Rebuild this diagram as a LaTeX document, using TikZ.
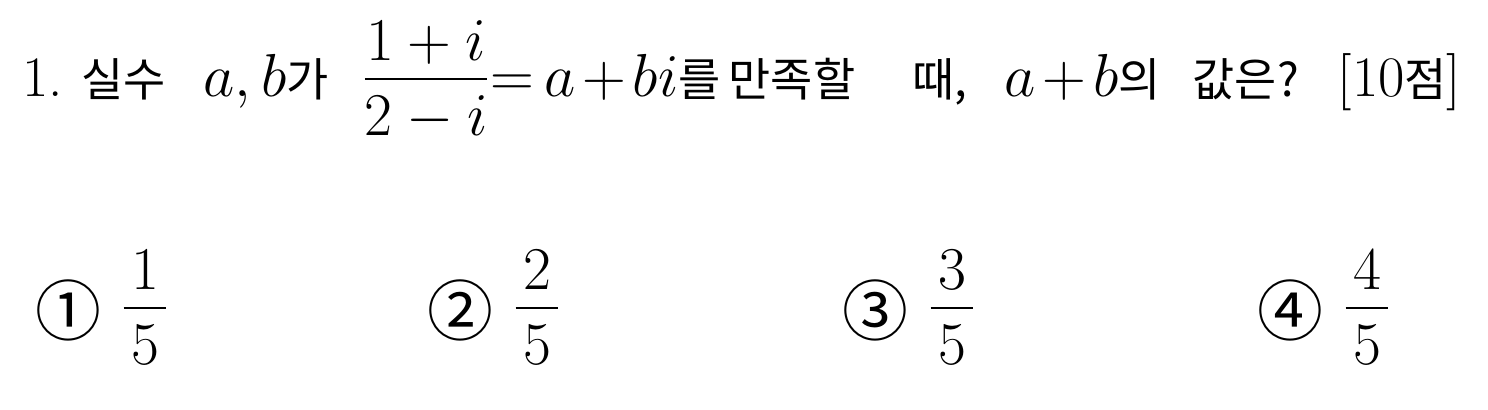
\documentclass[tikz,border=0pt]{standalone}
\usepackage{amsmath}
\usepackage{fontspec}
\newfontfamily\kor[Scale=0.8]{Noto Sans CJK KR}
\newfontfamily\circfont[Scale=1.15]{Noto Sans CJK KR}
\newcommand{\qfrac}[2]{\dfrac{\raisebox{-0.14em}{$#1$}}{#2}}
\newcommand{\choicefrac}[2]{\dfrac{\kern.13em\raisebox{-0.14em}{$#1$}\kern.13em}{#2}}
\newcommand{\tightop}[1]{\mskip2mu{#1}\mskip2mu}
\tikzset{
  qtext/.style={anchor=base west,inner sep=0pt,font=\fontsize{16.3}{20}\selectfont},
  choicenum/.style={anchor=center,inner sep=0pt,font=\fontsize{16.3}{20}\circfont},
  choicefr/.style={anchor=base,inner sep=0pt,font=\fontsize{16.3}{20}\selectfont}
}
\begin{document}
\begin{tikzpicture}[x=0.1mm,y=-0.1mm]
%\draw[step=100,gray,very thin] (0,0) grid (1488,409); %bckgr grid
\useasboundingbox (0,0) rectangle (1488,409);

% question line
\node[qtext] (num) at (22,96) {1.};
\node[qtext] (silsu) at (81,96) {\kor 실수};
\node[qtext] (ab) at (203,96) {$a,b$\kor 가};
\node[qtext] (frac) at (360,94) {$\qfrac{1+i}{2-i}$};
\node[qtext] (eq) at (490,96) {${=}\mskip3mu a\tightop{+}bi$\kor 를};
\node[qtext] (manjok) at (728,96) {\kor 만족할};
\node[qtext] (ttae) at (912,96) {\kor 때,};
\node[qtext] (apb) at (1004,96) {$a\tightop{+}b$\kor 의};
\node[qtext] (gap) at (1192,96) {\kor 값은?};
\node[qtext] (score) at (1337,96) {[10{\kor 점}]};

% choices
\node[choicenum] (c1) at (68,310) {①};
\node[choicenum] (c2) at (460,310) {②};
\node[choicenum] (c3) at (875,310) {③};
\node[choicenum] (c4) at (1290,310) {④};

\node[choicefr] (f1) at (145,323) {$\choicefrac{1}{5}$};
\node[choicefr] (f2) at (537,323) {$\choicefrac{2}{5}$};
\node[choicefr] (f3) at (952,323) {$\choicefrac{3}{5}$};
\node[choicefr] (f4) at (1367,323) {$\choicefrac{4}{5}$};

\end{tikzpicture}
\end{document}
